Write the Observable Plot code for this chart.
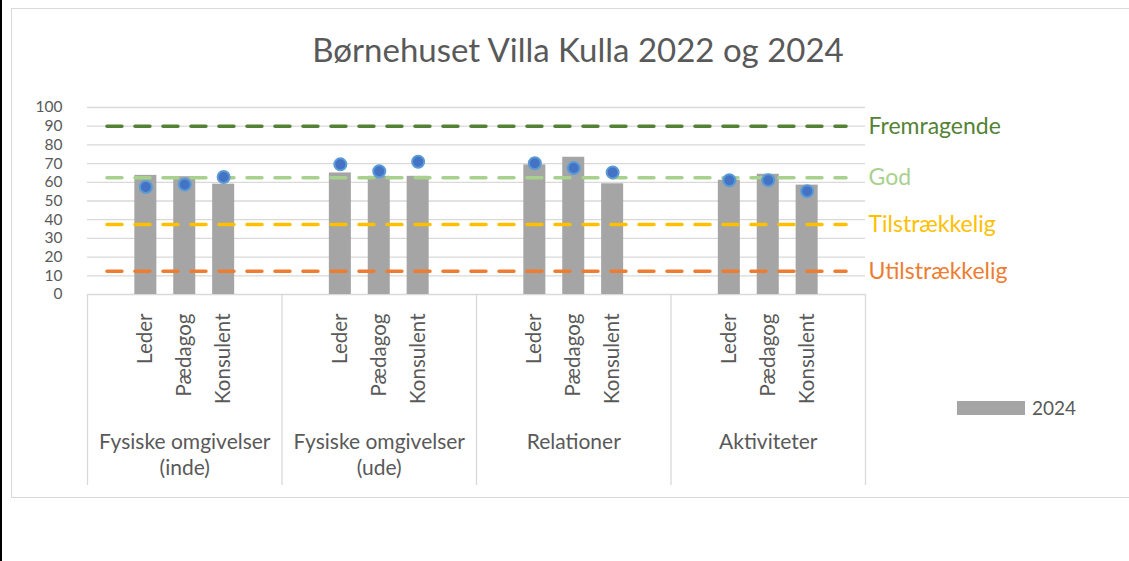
<!DOCTYPE html>
<html>
<head>
<meta charset="utf-8">
<script src="https://cdn.jsdelivr.net/npm/d3@7"></script>
<script src="https://cdn.jsdelivr.net/npm/@observablehq/plot@0.6"></script>
<style>
  body { margin: 0; background: #fff; font-family: Lato, sans-serif; }
  #wrap { position: relative; width: 1129px; height: 561px; overflow: hidden; background: #fff; }
  #leftbar { position: absolute; left: 0; top: 0; width: 2px; height: 561px; background: #000; }
  #frame { position: absolute; left: 11px; top: 8px; width: 1140px; height: 490px; border: 1.5px solid #d9d9d9; box-sizing: border-box; }
  #title { position: absolute; left: 578px; top: 29px; transform: translateX(-50%); white-space: nowrap; font-size: 33px; color: #595959; }
  #legend { position: absolute; left: 957px; top: 396px; display: flex; align-items: center; font-size: 19px; color: #595959; }
  #legend .sw { display: inline-block; width: 68px; height: 14px; background: #a5a5a5; margin-right: 7px; }
  #chart { position: absolute; left: 0; top: 0; }
</style>
</head>
<body>
<div id="wrap">
  <div id="leftbar"></div>
  <div id="frame"></div>
  <div id="chart"></div>
  <div id="title">Børnehuset Villa Kulla 2022 og 2024</div>
  <div id="legend"><span class="sw"></span><span>2024</span></div>
</div>
<script>
// ---- data ----
const groups = ["Fysiske omgivelser\n(inde)", "Fysiske omgivelser\n(ude)", "Relationer", "Aktiviteter"];
const roles = ["Leder", "Pædagog", "Konsulent"];
const values2024 = [63.7, 63.0, 59.0, 65.0, 63.2, 63.2, 69.3, 73.4, 59.2, 61.1, 64.3, 58.5];
const values2022 = [57.5, 58.8, 62.8, 69.6, 65.9, 71.0, 70.2, 67.6, 65.3, 61.1, 61.1, 55.2];
const thresholdLabels = ["Fremragende", "God", "Tilstrækkelig", "Utilstrækkelig"];
const thresholdValues = [90, 62.5, 37.5, 12.5];
const thresholdColors = ["#548235", "#a9d18e", "#ffc000", "#ed7d31"];
const yTicks = [0, 10, 20, 30, 40, 50, 60, 70, 80, 90, 100];

// ---- layout ----
const W = 1129, H = 561, ML = 87, MR = 264, MT = 107, MB = 267;
const step = (W - ML - MR) / 20;

// category slots: an empty slot before and after each group's three bars
const slots = [];
groups.forEach((g, gi) => {
  slots.push(`${gi}|start`);
  roles.forEach(r => slots.push(`${gi}|${r}`));
  slots.push(`${gi}|end`);
});

const rows = [];
groups.forEach((g, gi) => roles.forEach((r, ri) => rows.push({
  slot: `${gi}|${r}`, role: r, group: g,
  v2024: values2024[gi * 3 + ri], v2022: values2022[gi * 3 + ri]
})));

const groupRows = groups.map((g, gi) => ({label: g, mid: `${gi}|${roles[1]}`, first: `${gi}|start`}));

const thresholds = thresholdLabels.map((l, i) => ({label: l, value: thresholdValues[i], color: thresholdColors[i]}));
const thresholdLines = [];
thresholds.forEach(t => slots.forEach(s => thresholdLines.push({slot: s, value: t.value, label: t.label, color: t.color})));

const plot = Plot.plot({
  width: W, height: H,
  marginTop: MT, marginBottom: MB, marginLeft: ML, marginRight: MR,
  style: {fontFamily: "Lato, sans-serif", background: "transparent", overflow: "visible"},
  x: {type: "band", domain: slots, paddingInner: 0.434, paddingOuter: 0.217, round: false, axis: null},
  y: {domain: [0, 100], axis: null},
  color: {type: "identity"},
  marks: [
    Plot.ruleY(yTicks, {stroke: "#d9d9d9", strokeWidth: 1.3}),
    Plot.axisY(yTicks, {tickSize: 0, tickPadding: 25, fontSize: 15.5, fill: "#595959", label: null, tickFormat: d => d}),
    // axis table separators
    Plot.ruleX(groupRows, {x: "first", dx: -step / 2, y1: 0, y2: 0, insetBottom: -191, stroke: "#d9d9d9", strokeWidth: 1.3}),
    Plot.ruleX([slots[slots.length - 1]], {x: d => d, dx: step / 2, y1: 0, y2: 0, insetBottom: -191, stroke: "#d9d9d9", strokeWidth: 1.3}),
    Plot.barY(rows, {x: "slot", y: "v2024", fill: "#a5a5a5"}),
    Plot.lineY(thresholdLines, {x: "slot", y: "value", z: "label", stroke: "color", strokeWidth: 3.5, strokeDasharray: "15 13"}),
    Plot.dot(rows, {x: "slot", y: "v2022", r: 6, fill: "#4472c4", stroke: "#5b9bd5", strokeWidth: 2}),
    Plot.text(thresholds, {y: "value", text: "label", fill: "color", frameAnchor: "right", textAnchor: "start", dx: 3, fontSize: 23}),
    Plot.text(rows, {x: "slot", y: () => 0, text: "role", rotate: -90, textAnchor: "end", lineAnchor: "middle", dy: 19, fontSize: 20.5, fill: "#595959"}),
    Plot.text(groupRows, {x: "mid", y: () => 0, text: "label", lineAnchor: "top", dy: 137, fontSize: 21, lineHeight: 1.2, fill: "#595959"})
  ]
});
document.getElementById("chart").appendChild(plot);
</script>
</body>
</html>
